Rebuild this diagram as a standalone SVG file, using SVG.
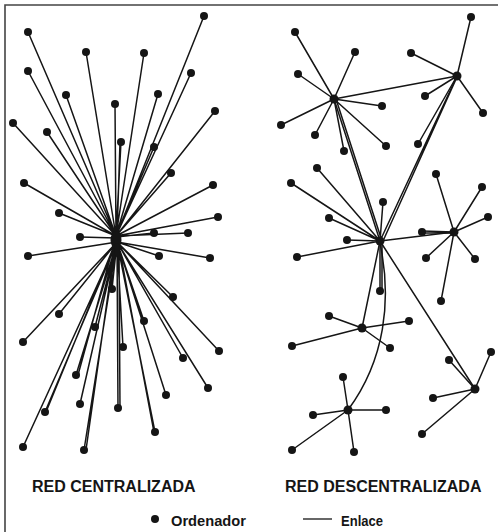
<svg xmlns="http://www.w3.org/2000/svg" width="498" height="532" viewBox="0 0 498 532">
<style>
.e{stroke:#151515;stroke-width:1.5;fill:none;stroke-linecap:round}
.n circle,.n ellipse{fill:#151515}
.t{font-family:"Liberation Sans",Arial,sans-serif;font-weight:bold;fill:#151515}
</style>
<rect width="498" height="532" fill="#fff"/>
<path d="M5,532V5H498" stroke="#444" stroke-width="1.6" fill="none"/>
<g id="connectors" class="e">
<g id="central-links">
<path d="M204,16L116,236M28,32L116,236M86,52L116,236M144,53L116,236M28,71L116,236M191,73L116,236M66,95L116,236M158,94L116,236M115,104L116,236M215,111L116,236M13,123L116,236M47,132L116,236M121,142L116,236M120,142L117,236M154,147L116,236M171,173L116,236M24,183L116,236M213,185L116,236M59,213L116,236M218,217L116,236M188,233L116,236M154,233L116,237M80,237L116,238"/>
<path d="M28,256L117,242M159,256L117,242M210,258L117,242M112,289L117,242M173,297L117,242M59,314L117,242M95,327L117,242M144,321L117,242M23,342L117,242M123,347L117,242M219,351L117,242M183,358L117,242M76,375L117,242M208,388L117,242M166,395L117,242M80,404L117,242M45,412L117,242M118,408L117,242M155,432L117,242M23,447L117,242M84,450L117,242M86,450L115,245M46,412L114,246M78,375L114,244M154,432L119,246M120,408L119,246M111,289L114,246"/>
</g>
<g id="decentral-links">
<path d="M334,99L295,32M334,99L355,52M334,99L298,74M334,99L382,106M334,99L281,125M334,99L315,135M334,99L344,151M334,99L386,146"/>
<path d="M457,76L471,17M457,76L411,53M457,76L425,96M457,76L483,113M457,76L418,144"/>
<path d="M380,241L317,168M380,241L291,183M380,241L383,202M380,241L329,218M380,241L347,240M380,241L297,257M380,241L380,291M382,243L382,291"/>
<path d="M454,232L436,174M454,232L482,187M454,232L488,217M454,232L422,231M454,233L422,233M454,232L426,258M454,232L475,259M454,232L441,301"/>
<path d="M362,328L329,316M362,328L409,321M362,328L292,346M362,328L390,348"/>
<path d="M475,389L491,352M475,389L449,360M475,389L433,398M475,389L422,434"/>
<path d="M348,410L343,377M348,410L313,415M348,410L386,410M348,410L292,450M348,410L354,452"/>
<path d="M334,99L457,76M334,99L380,241M336,99L382,241M457,76L380,241M457,77L383,241M380,241L454,232M380,241L362,328M380,241L475,389"/>
<path d="M380,243C392,300 385,360 348,410"/>
</g>
</g>
<g id="central-hub" class="n"><ellipse cx="116" cy="240" rx="5.5" ry="9"/><ellipse cx="117" cy="250" rx="3" ry="7"/></g>
<g id="c1" class="n"><circle cx="204" cy="16" r="4"/></g>
<g id="c2" class="n"><circle cx="28" cy="32" r="4"/></g>
<g id="c3" class="n"><circle cx="86" cy="52" r="4"/></g>
<g id="c4" class="n"><circle cx="144" cy="53" r="4"/></g>
<g id="c5" class="n"><circle cx="28" cy="71" r="4"/></g>
<g id="c6" class="n"><circle cx="191" cy="73" r="4"/></g>
<g id="c7" class="n"><circle cx="66" cy="95" r="4"/></g>
<g id="c8" class="n"><circle cx="158" cy="94" r="4"/></g>
<g id="c9" class="n"><circle cx="115" cy="104" r="4"/></g>
<g id="c10" class="n"><circle cx="215" cy="111" r="4"/></g>
<g id="c11" class="n"><circle cx="13" cy="123" r="4"/></g>
<g id="c12" class="n"><circle cx="47" cy="132" r="4"/></g>
<g id="c13" class="n"><circle cx="121" cy="142" r="4"/></g>
<g id="c14" class="n"><circle cx="154" cy="147" r="4"/></g>
<g id="c15" class="n"><circle cx="171" cy="173" r="4"/></g>
<g id="c16" class="n"><circle cx="24" cy="183" r="4"/></g>
<g id="c17" class="n"><circle cx="213" cy="185" r="4"/></g>
<g id="c18" class="n"><circle cx="59" cy="213" r="4"/></g>
<g id="c19" class="n"><circle cx="218" cy="217" r="4"/></g>
<g id="c20" class="n"><circle cx="188" cy="233" r="4"/></g>
<g id="c21" class="n"><circle cx="154" cy="233" r="4"/></g>
<g id="c22" class="n"><circle cx="80" cy="237" r="4"/></g>
<g id="c23" class="n"><circle cx="28" cy="256" r="4"/></g>
<g id="c24" class="n"><circle cx="159" cy="256" r="4"/></g>
<g id="c25" class="n"><circle cx="210" cy="258" r="4"/></g>
<g id="c26" class="n"><circle cx="112" cy="289" r="4"/></g>
<g id="c27" class="n"><circle cx="173" cy="297" r="4"/></g>
<g id="c28" class="n"><circle cx="59" cy="314" r="4"/></g>
<g id="c29" class="n"><circle cx="95" cy="327" r="4"/></g>
<g id="c30" class="n"><circle cx="144" cy="321" r="4"/></g>
<g id="c31" class="n"><circle cx="23" cy="342" r="4"/></g>
<g id="c32" class="n"><circle cx="123" cy="347" r="4"/></g>
<g id="c33" class="n"><circle cx="219" cy="351" r="4"/></g>
<g id="c34" class="n"><circle cx="183" cy="358" r="4"/></g>
<g id="c35" class="n"><circle cx="76" cy="375" r="4"/></g>
<g id="c36" class="n"><circle cx="208" cy="388" r="4"/></g>
<g id="c37" class="n"><circle cx="166" cy="395" r="4"/></g>
<g id="c38" class="n"><circle cx="80" cy="404" r="4"/></g>
<g id="c39" class="n"><circle cx="45" cy="412" r="4"/></g>
<g id="c40" class="n"><circle cx="118" cy="408" r="4"/></g>
<g id="c41" class="n"><circle cx="155" cy="432" r="4"/></g>
<g id="c42" class="n"><circle cx="23" cy="447" r="4"/></g>
<g id="c43" class="n"><circle cx="84" cy="450" r="4"/></g>
<g id="hubA" class="n"><circle cx="334" cy="99" r="4.5"/></g>
<g id="hubB" class="n"><circle cx="457" cy="76" r="4.5"/></g>
<g id="hubC" class="n"><circle cx="380" cy="241" r="4.5"/></g>
<g id="hubD" class="n"><circle cx="454" cy="232" r="4.5"/></g>
<g id="hubE" class="n"><circle cx="362" cy="328" r="4.5"/></g>
<g id="hubF" class="n"><circle cx="475" cy="389" r="4.5"/></g>
<g id="hubG" class="n"><circle cx="348" cy="410" r="4.5"/></g>
<g id="a1" class="n"><circle cx="295" cy="32" r="4"/></g>
<g id="a2" class="n"><circle cx="355" cy="52" r="4"/></g>
<g id="a3" class="n"><circle cx="298" cy="74" r="4"/></g>
<g id="a4" class="n"><circle cx="382" cy="106" r="4"/></g>
<g id="a5" class="n"><circle cx="281" cy="125" r="4"/></g>
<g id="a6" class="n"><circle cx="315" cy="135" r="4"/></g>
<g id="a7" class="n"><circle cx="344" cy="151" r="4"/></g>
<g id="a8" class="n"><circle cx="386" cy="146" r="4"/></g>
<g id="b1" class="n"><circle cx="471" cy="17" r="4"/></g>
<g id="b2" class="n"><circle cx="411" cy="53" r="4"/></g>
<g id="b3" class="n"><circle cx="425" cy="96" r="4"/></g>
<g id="b4" class="n"><circle cx="483" cy="113" r="4"/></g>
<g id="b5" class="n"><circle cx="418" cy="144" r="4"/></g>
<g id="k1" class="n"><circle cx="317" cy="168" r="4"/></g>
<g id="k2" class="n"><circle cx="291" cy="183" r="4"/></g>
<g id="k3" class="n"><circle cx="383" cy="202" r="4"/></g>
<g id="k4" class="n"><circle cx="329" cy="218" r="4"/></g>
<g id="k5" class="n"><circle cx="347" cy="240" r="4"/></g>
<g id="k6" class="n"><circle cx="297" cy="257" r="4"/></g>
<g id="k7" class="n"><circle cx="380" cy="291" r="4"/></g>
<g id="d1" class="n"><circle cx="436" cy="174" r="4"/></g>
<g id="d2" class="n"><circle cx="482" cy="187" r="4"/></g>
<g id="d3" class="n"><circle cx="488" cy="217" r="4"/></g>
<g id="d4" class="n"><circle cx="422" cy="232" r="4"/></g>
<g id="d5" class="n"><circle cx="426" cy="258" r="4"/></g>
<g id="d6" class="n"><circle cx="475" cy="259" r="4"/></g>
<g id="d7" class="n"><circle cx="441" cy="301" r="4"/></g>
<g id="e1" class="n"><circle cx="329" cy="316" r="4"/></g>
<g id="e2" class="n"><circle cx="409" cy="321" r="4"/></g>
<g id="e3" class="n"><circle cx="292" cy="346" r="4"/></g>
<g id="e4" class="n"><circle cx="390" cy="348" r="4"/></g>
<g id="f1" class="n"><circle cx="491" cy="352" r="4"/></g>
<g id="f2" class="n"><circle cx="449" cy="360" r="4"/></g>
<g id="f3" class="n"><circle cx="433" cy="398" r="4"/></g>
<g id="f4" class="n"><circle cx="422" cy="434" r="4"/></g>
<g id="g1" class="n"><circle cx="343" cy="377" r="4"/></g>
<g id="g2" class="n"><circle cx="313" cy="415" r="4"/></g>
<g id="g3" class="n"><circle cx="386" cy="410" r="4"/></g>
<g id="g4" class="n"><circle cx="292" cy="450" r="4"/></g>
<g id="g5" class="n"><circle cx="354" cy="452" r="4"/></g>
<g id="titles">
<text class="t" x="32" y="492" font-size="16">RED CENTRALIZADA</text>
<text class="t" x="285" y="492" font-size="16">RED DESCENTRALIZADA</text>
</g>
<g id="legend">
<circle cx="155" cy="519" r="4" fill="#151515"/>
<text class="t" x="171" y="526" font-size="15" textLength="75" lengthAdjust="spacingAndGlyphs">Ordenador</text>
<line x1="303" y1="519" x2="332" y2="519" stroke="#151515" stroke-width="1.3"/>
<text class="t" x="341" y="526" font-size="15" textLength="42" lengthAdjust="spacingAndGlyphs">Enlace</text>
</g>
</svg>
